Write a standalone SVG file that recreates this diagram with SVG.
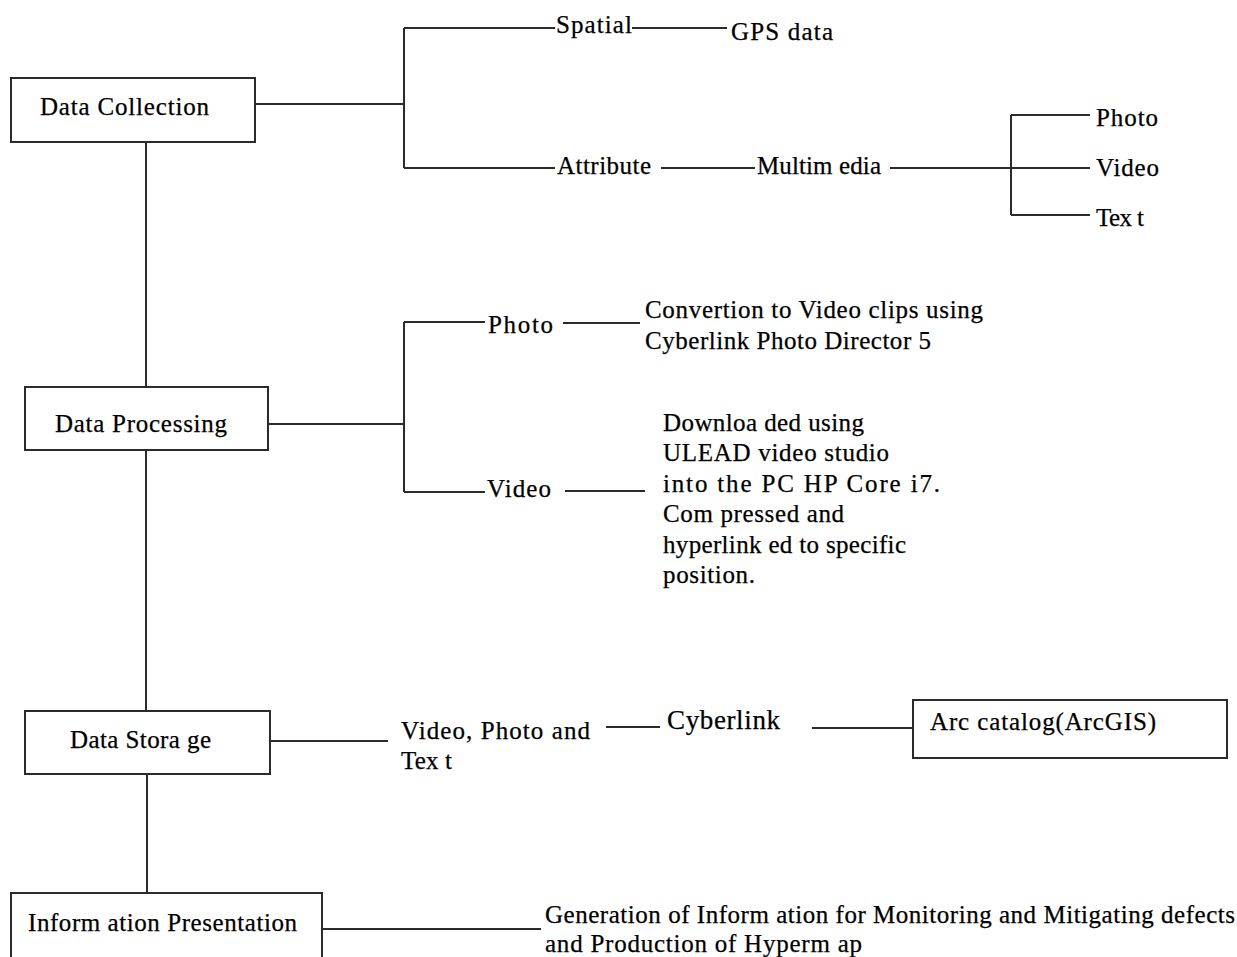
<svg xmlns="http://www.w3.org/2000/svg" width="1237" height="957" viewBox="0 0 1237 957">
<style>
.bg{fill:#fff}
.box{fill:#fff;stroke:#2b2b2b;stroke-width:2}
.ln{fill:none;stroke:#2b2b2b;stroke-width:2}
text{font-family:"Liberation Serif","Times New Roman",serif;font-size:25px;fill:#000;stroke:#000;stroke-width:0.25}
.big{font-size:27px}
</style>
<rect class="bg" x="0" y="0" width="1237" height="957"/>
<g id="connectors">
<path class="ln" d="M146 142V387M146 450V711M147 774V893"/>
<path class="ln" d="M255 104H404M404 28V168M404 28H555M632 28H727M404 168H555M661 168H755M890 168H1090M1011 115V215M1011 115H1090M1011 215H1090"/>
<path class="ln" d="M268 424H404M404 322V492M404 322H485M563 323H640M404 492H485M565 491H645"/>
<path class="ln" d="M270 741H388M606 727H660M812 728H912"/>
<path class="ln" d="M322 929H541"/>
</g>
<g id="data-collection">
<rect class="box" x="11" y="78" width="244" height="64"/>
<text x="40" y="115" textLength="169" lengthAdjust="spacing">Data Collection</text>
</g>
<g id="spatial"><text x="556" y="33" textLength="76" lengthAdjust="spacing">Spatial</text></g>
<g id="gps"><text x="731" y="40" textLength="102" lengthAdjust="spacing">GPS  data</text></g>
<g id="attribute"><text x="557" y="174" textLength="94" lengthAdjust="spacing">Attribute</text></g>
<g id="multimedia"><text x="757" y="174" textLength="124" lengthAdjust="spacing">Multim edia</text></g>
<g id="mm-photo"><text x="1096" y="126" textLength="62" lengthAdjust="spacing">Photo</text></g>
<g id="mm-video"><text x="1096" y="176" textLength="63" lengthAdjust="spacing">Video</text></g>
<g id="mm-text"><text x="1096" y="226" textLength="48" lengthAdjust="spacing">Tex t</text></g>
<g id="data-processing">
<rect class="box" x="25" y="387" width="243" height="63"/>
<text x="55" y="432" textLength="172" lengthAdjust="spacing">Data Processing</text>
</g>
<g id="dp-photo"><text x="488" y="333" textLength="65" lengthAdjust="spacing">Photo</text></g>
<g id="dp-photo-desc">
<text x="645" y="318" textLength="338" lengthAdjust="spacing">Convertion to Video clips  using</text>
<text x="645" y="349" textLength="286" lengthAdjust="spacing">Cyberlink Photo Director 5</text>
</g>
<g id="dp-video"><text x="487" y="497" textLength="64" lengthAdjust="spacing">Video</text></g>
<g id="dp-video-desc">
<text x="663" y="431" textLength="201" lengthAdjust="spacing">Downloa ded using</text>
<text x="663" y="461" textLength="226" lengthAdjust="spacing">ULEAD  video studio</text>
<text x="663" y="492" textLength="277" lengthAdjust="spacing">into the PC HP Core i7.</text>
<text x="663" y="522" textLength="181" lengthAdjust="spacing">Com pressed and</text>
<text x="663" y="553" textLength="243" lengthAdjust="spacing">hyperlink ed to specific</text>
<text x="663" y="583" textLength="92" lengthAdjust="spacing">position.</text>
</g>
<g id="data-storage">
<rect class="box" x="25" y="711" width="245" height="63"/>
<text x="70" y="748" textLength="141" lengthAdjust="spacing">Data Stora ge</text>
</g>
<g id="vpt">
<text x="401" y="739" textLength="189" lengthAdjust="spacing">Video, Photo and</text>
<text x="401" y="769" textLength="51" lengthAdjust="spacing">Tex t</text>
</g>
<g id="cyberlink"><text class="big" x="667" y="729" textLength="113" lengthAdjust="spacing">Cyberlink</text></g>
<g id="arc-catalog">
<rect class="box" x="913" y="700" width="314" height="58"/>
<text x="930" y="730" textLength="226" lengthAdjust="spacing">Arc catalog(ArcGIS)</text>
</g>
<g id="info-presentation">
<rect class="box" x="11" y="893" width="311" height="66"/>
<text x="28" y="931" textLength="269" lengthAdjust="spacing">Inform ation Presentation</text>
</g>
<g id="generation">
<text x="545" y="923" textLength="690" lengthAdjust="spacing">Generation of Inform ation for Monitoring and Mitigating defects</text>
<text x="545" y="952" textLength="317" lengthAdjust="spacing">and Production of Hyperm ap</text>
</g>
</svg>
